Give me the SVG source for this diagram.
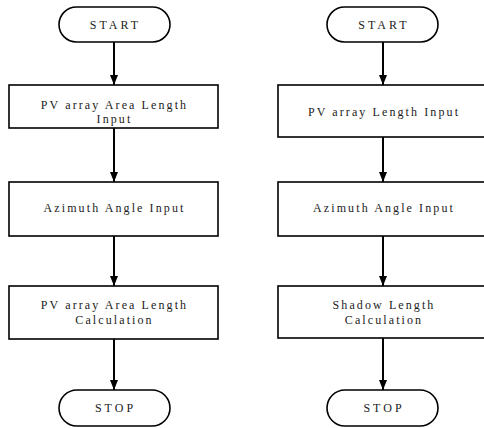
<svg xmlns="http://www.w3.org/2000/svg" width="484" height="428" viewBox="0 0 484 428">
<style>
.shape{fill:#fff;stroke:#000;stroke-width:1.6}
.t{font-family:"Liberation Serif",serif;font-size:12px;fill:#222;text-anchor:middle;letter-spacing:2.1px}
.tc{font-family:"Liberation Serif",serif;font-size:12px;fill:#222;text-anchor:middle;letter-spacing:3px}
.c{stroke:#000;stroke-width:2;fill:none}
</style>
<defs>
<marker id="ah" markerWidth="10" markerHeight="8" refX="10" refY="4" orient="auto" markerUnits="userSpaceOnUse">
<path d="M0,0 L10,4 L0,8 Z" fill="#000"/>
</marker>
</defs>
<rect width="484" height="428" fill="#fff"/>
<g id="connectors">
<line class="c" x1="114" y1="42" x2="114" y2="85" marker-end="url(#ah)"/>
<line class="c" x1="114" y1="128" x2="114" y2="182" marker-end="url(#ah)"/>
<line class="c" x1="114" y1="236" x2="114" y2="286" marker-end="url(#ah)"/>
<line class="c" x1="114" y1="339" x2="114" y2="390" marker-end="url(#ah)"/>
<line class="c" x1="383" y1="42" x2="383" y2="85" marker-end="url(#ah)"/>
<line class="c" x1="383" y1="137" x2="383" y2="182" marker-end="url(#ah)"/>
<line class="c" x1="383" y1="236" x2="383" y2="286" marker-end="url(#ah)"/>
<line class="c" x1="383" y1="338" x2="383" y2="390" marker-end="url(#ah)"/>
</g>
<g id="start-left">
<rect class="shape" x="59" y="7" width="111" height="35" rx="17.5"/>
<text class="tc" x="115.5" y="29">START</text>
</g>
<g id="box1-left">
<rect class="shape" x="9" y="85" width="209" height="43"/>
<text class="t" x="114.5" y="108.7">PV array Area Length</text>
<text class="t" x="114.5" y="123.3">Input</text>
</g>
<g id="box2-left">
<rect class="shape" x="9" y="182" width="209" height="54"/>
<text class="t" x="114.5" y="212.3">Azimuth Angle Input</text>
</g>
<g id="box3-left">
<rect class="shape" x="9" y="286" width="209" height="53"/>
<text class="t" x="114.5" y="308.5">PV array Area Length</text>
<text class="t" x="114.5" y="324">Calculation</text>
</g>
<g id="stop-left">
<rect class="shape" x="59" y="390" width="111" height="36" rx="18"/>
<text class="tc" x="115.5" y="412">STOP</text>
</g>
<g id="start-right">
<rect class="shape" x="327" y="7" width="111" height="35" rx="17.5"/>
<text class="tc" x="384" y="29">START</text>
</g>
<g id="box1-right">
<rect class="shape" x="278" y="85" width="209" height="52"/>
<text class="t" x="384" y="116">PV array Length Input</text>
</g>
<g id="box2-right">
<rect class="shape" x="278" y="182" width="209" height="54"/>
<text class="t" x="384" y="212.3">Azimuth Angle Input</text>
</g>
<g id="box3-right">
<rect class="shape" x="278" y="286" width="209" height="52"/>
<text class="t" x="384" y="309">Shadow Length</text>
<text class="t" x="384" y="324.3">Calculation</text>
</g>
<g id="stop-right">
<rect class="shape" x="327" y="390" width="111" height="36" rx="18"/>
<text class="tc" x="384" y="412">STOP</text>
</g>
</svg>
